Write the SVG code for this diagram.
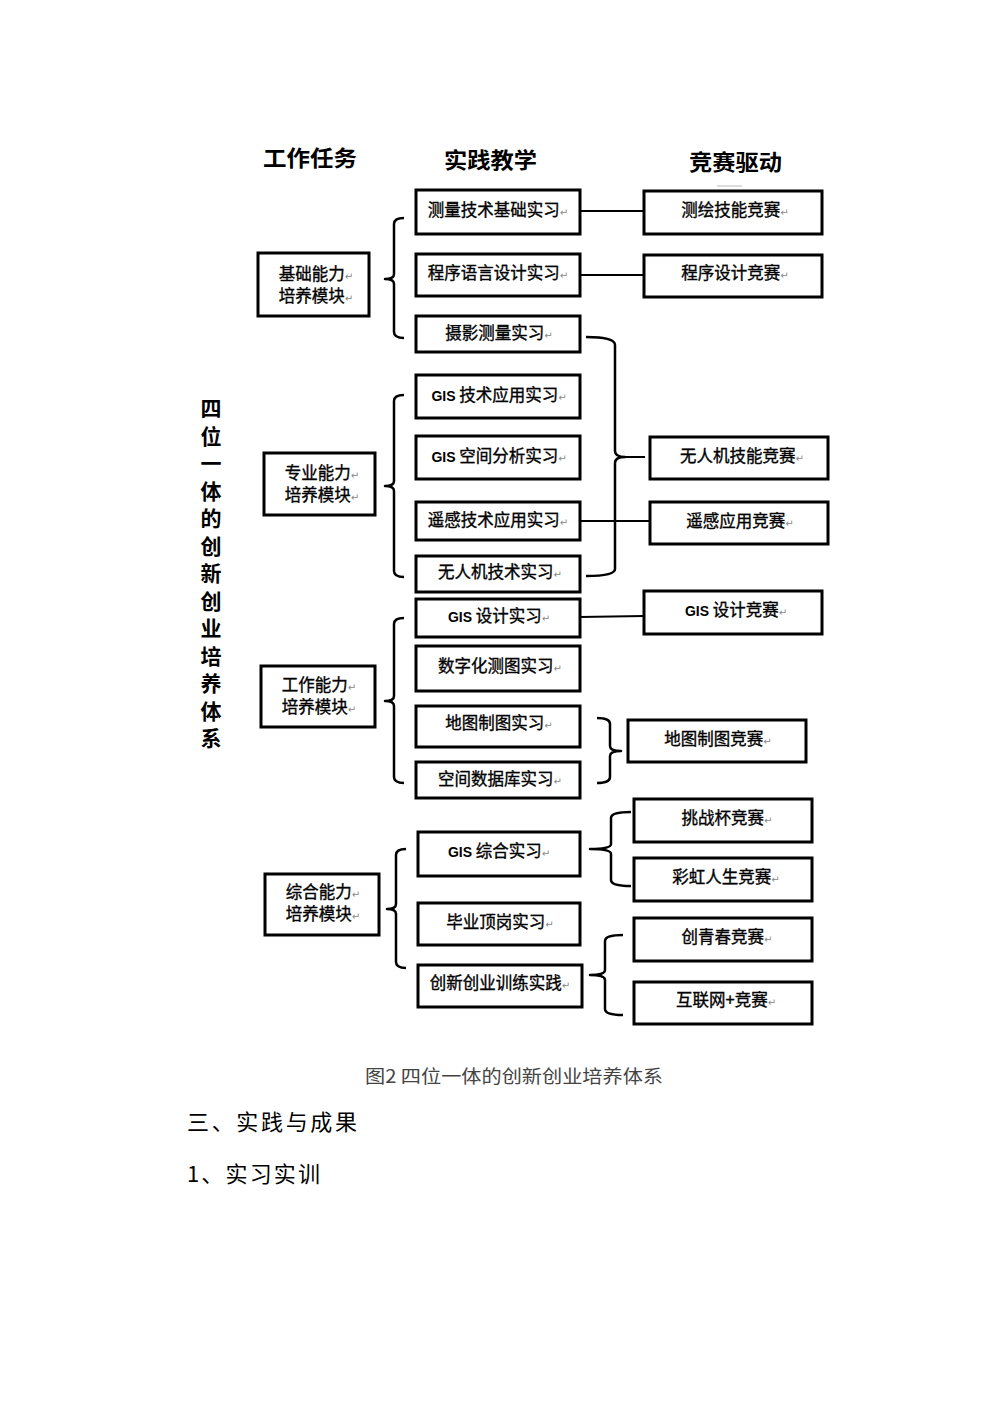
<svg xmlns="http://www.w3.org/2000/svg" width="992" height="1403" viewBox="0 0 992 1403">
<style>
  .bx { fill: #fff; stroke: #000; stroke-width: 3; }
  .t { font-family: "Noto Sans CJK SC", "Noto Sans", sans-serif; font-size: 16.5px; fill: #000; stroke: #000; stroke-width: 0.35; text-anchor: middle; }
  .g { font-family: "Liberation Sans", Arial, sans-serif; font-weight: bold; font-size: 14px; stroke-width: 0; }
  .r { font-family: "DejaVu Sans", sans-serif; font-size: 10px; fill: #888; stroke: none; }
  .h { font-family: "Noto Sans CJK SC", sans-serif; font-size: 22px; font-weight: bold; fill: #000; }
  .v { font-family: "Noto Sans CJK SC", sans-serif; font-size: 21px; font-weight: bold; fill: #000; text-anchor: middle; }
  .ln { fill: none; stroke: #000; stroke-width: 2; }
  .br { fill: none; stroke: #000; stroke-width: 2.5; stroke-linejoin: round; }
</style>
<rect width="992" height="1403" fill="#fff"/>

<g id="headers">
  <text class="h" x="263" y="166" textLength="94" lengthAdjust="spacingAndGlyphs">工作任务</text>
  <text class="h" x="444" y="168" textLength="93" lengthAdjust="spacingAndGlyphs">实践教学</text>
  <text class="h" x="689" y="170" textLength="93" lengthAdjust="spacingAndGlyphs">竞赛驱动</text>
  <line x1="717" y1="186" x2="742" y2="186" stroke="#bbb" stroke-width="1"/>
</g>

<g id="title-vertical">
  <text class="v" x="211" y="416">四</text>
  <text class="v" x="211" y="443.5">位</text>
  <text class="v" x="211" y="471">一</text>
  <text class="v" x="211" y="498.5">体</text>
  <text class="v" x="211" y="526">的</text>
  <text class="v" x="211" y="553.5">创</text>
  <text class="v" x="211" y="581">新</text>
  <text class="v" x="211" y="608.5">创</text>
  <text class="v" x="211" y="636">业</text>
  <text class="v" x="211" y="663.5">培</text>
  <text class="v" x="211" y="691">养</text>
  <text class="v" x="211" y="718.5">体</text>
  <text class="v" x="211" y="746">系</text>
</g>

<g id="connectors">
  <line class="ln" x1="580" y1="211" x2="644" y2="211"/>
  <line class="ln" x1="580" y1="275" x2="644" y2="275"/>
  <line class="ln" x1="580" y1="521" x2="650" y2="521"/>
  <line class="ln" x1="580" y1="617" x2="644" y2="616"/>
  <path class="br" d="M404,218 Q394,218 394,224 L394,274 Q394,279 385,279 Q394,279 394,284 L394,332 Q394,338 404,338"/>
  <path class="br" d="M404,395 Q394,395 394,401 L394,481 Q394,486 385,486 Q394,486 394,491 L394,571 Q394,577 404,577"/>
  <path class="br" d="M404,618 Q394,618 394,624 L394,696 Q394,701 385,701 Q394,701 394,706 L394,777 Q394,783 404,783"/>
  <path class="br" d="M406,849 Q396,849 396,855 L396,904 Q396,909 387,909 Q396,909 396,914 L396,962 Q396,968 406,968"/>
  <path class="br" d="M586,337 Q615,337 615,345 L615,451 Q615,457 625,457 Q615,457 615,463 L615,569 Q615,576 586,576"/>
  <line class="ln" x1="625" y1="457" x2="645" y2="457"/>
  <path class="br" d="M597,718 Q610,718 610,724 L610,746 Q610,751 621,751 Q610,751 610,756 L610,777 Q610,783 597,783"/>
  <path class="br" d="M631,812 Q611,812 611,818 L611,844 Q611,849 590,849 Q611,849 611,854 L611,880 Q611,886 631,886"/>
  <path class="br" d="M623,935 Q605,935 605,941 L605,970 Q605,975 590,975 Q605,975 605,980 L605,1009 Q605,1015 623,1015"/>
</g>

<g id="m1"><rect class="bx" x="258" y="253" width="111" height="63"/>
  <text class="t"><tspan x="316" y="280">基础能力<tspan class="r">↵</tspan></tspan><tspan x="316" y="302">培养模块<tspan class="r">↵</tspan></tspan></text></g>
<g id="m2"><rect class="bx" x="264" y="453" width="111" height="62"/>
  <text class="t"><tspan x="322" y="479">专业能力<tspan class="r">↵</tspan></tspan><tspan x="322" y="501">培养模块<tspan class="r">↵</tspan></tspan></text></g>
<g id="m3"><rect class="bx" x="261" y="666" width="114" height="61"/>
  <text class="t"><tspan x="319" y="691">工作能力<tspan class="r">↵</tspan></tspan><tspan x="319" y="713">培养模块<tspan class="r">↵</tspan></tspan></text></g>
<g id="m4"><rect class="bx" x="265" y="874" width="114" height="61"/>
  <text class="t"><tspan x="323" y="898">综合能力<tspan class="r">↵</tspan></tspan><tspan x="323" y="920">培养模块<tspan class="r">↵</tspan></tspan></text></g>

<g id="p1"><rect class="bx" x="416" y="190" width="164" height="44"/><text class="t" x="498" y="216">测量技术基础实习<tspan class="r">↵</tspan></text></g>
<g id="p2"><rect class="bx" x="416" y="254" width="164" height="42"/><text class="t" x="498" y="279">程序语言设计实习<tspan class="r">↵</tspan></text></g>
<g id="p3"><rect class="bx" x="416" y="316" width="164" height="36"/><text class="t" x="499" y="339">摄影测量实习<tspan class="r">↵</tspan></text></g>
<g id="p4"><rect class="bx" x="416" y="375" width="164" height="43"/><text class="t" x="499" y="401"><tspan class="g">GIS</tspan> 技术应用实习<tspan class="r">↵</tspan></text></g>
<g id="p5"><rect class="bx" x="416" y="436" width="164" height="43"/><text class="t" x="499" y="462"><tspan class="g">GIS</tspan> 空间分析实习<tspan class="r">↵</tspan></text></g>
<g id="p6"><rect class="bx" x="416" y="502" width="164" height="38"/><text class="t" x="498" y="526">遥感技术应用实习<tspan class="r">↵</tspan></text></g>
<g id="p7"><rect class="bx" x="416" y="556" width="164" height="36"/><text class="t" x="500" y="578">无人机技术实习<tspan class="r">↵</tspan></text></g>
<g id="p8"><rect class="bx" x="416" y="599" width="164" height="38"/><text class="t" x="499" y="622"><tspan class="g">GIS</tspan> 设计实习<tspan class="r">↵</tspan></text></g>
<g id="p9"><rect class="bx" x="416" y="646" width="164" height="45"/><text class="t" x="500" y="672">数字化测图实习<tspan class="r">↵</tspan></text></g>
<g id="p10"><rect class="bx" x="416" y="706" width="164" height="41"/><text class="t" x="499" y="729">地图制图实习<tspan class="r">↵</tspan></text></g>
<g id="p11"><rect class="bx" x="416" y="762" width="164" height="36"/><text class="t" x="500" y="785">空间数据库实习<tspan class="r">↵</tspan></text></g>
<g id="p12"><rect class="bx" x="418" y="832" width="162" height="44"/><text class="t" x="499" y="857"><tspan class="g">GIS</tspan> 综合实习<tspan class="r">↵</tspan></text></g>
<g id="p13"><rect class="bx" x="418" y="903" width="162" height="42"/><text class="t" x="500" y="928">毕业顶岗实习<tspan class="r">↵</tspan></text></g>
<g id="p14"><rect class="bx" x="418" y="965" width="164" height="42"/><text class="t" x="500" y="989">创新创业训练实践<tspan class="r">↵</tspan></text></g>

<g id="c1"><rect class="bx" x="644" y="191" width="178" height="43"/><text class="t" x="735" y="216">测绘技能竞赛<tspan class="r">↵</tspan></text></g>
<g id="c2"><rect class="bx" x="644" y="255" width="178" height="42"/><text class="t" x="735" y="279">程序设计竞赛<tspan class="r">↵</tspan></text></g>
<g id="c3"><rect class="bx" x="650" y="437" width="178" height="42"/><text class="t" x="742" y="462">无人机技能竞赛<tspan class="r">↵</tspan></text></g>
<g id="c4"><rect class="bx" x="650" y="502" width="178" height="42"/><text class="t" x="740" y="527">遥感应用竞赛<tspan class="r">↵</tspan></text></g>
<g id="c5"><rect class="bx" x="644" y="591" width="178" height="43"/><text class="t" x="736" y="616"><tspan class="g">GIS</tspan> 设计竞赛<tspan class="r">↵</tspan></text></g>
<g id="c6"><rect class="bx" x="628" y="720" width="178" height="42"/><text class="t" x="718" y="745">地图制图竞赛<tspan class="r">↵</tspan></text></g>
<g id="c7"><rect class="bx" x="634" y="799" width="178" height="43"/><text class="t" x="727" y="824">挑战杯竞赛<tspan class="r">↵</tspan></text></g>
<g id="c8"><rect class="bx" x="634" y="858" width="178" height="43"/><text class="t" x="726" y="883">彩虹人生竞赛<tspan class="r">↵</tspan></text></g>
<g id="c9"><rect class="bx" x="634" y="918" width="178" height="43"/><text class="t" x="727" y="943">创青春竞赛<tspan class="r">↵</tspan></text></g>
<g id="c10"><rect class="bx" x="634" y="982" width="178" height="42"/><text class="t" x="726" y="1006">互联网+竞赛<tspan class="r">↵</tspan></text></g>

<g id="caption">
  <text x="365" y="1083" font-family="Noto Sans CJK SC, sans-serif" font-size="18" fill="#444" textLength="298" lengthAdjust="spacingAndGlyphs">图2 四位一体的创新创业培养体系</text>
  <text x="187" y="1130" font-family="Noto Sans CJK SC, sans-serif" font-size="22" fill="#000" textLength="170" lengthAdjust="spacing">三、实践与成果</text>
  <text x="187" y="1182" font-family="Noto Sans CJK SC, sans-serif" font-size="22" fill="#000" textLength="133" lengthAdjust="spacing">1、实习实训</text>
</g>
</svg>
